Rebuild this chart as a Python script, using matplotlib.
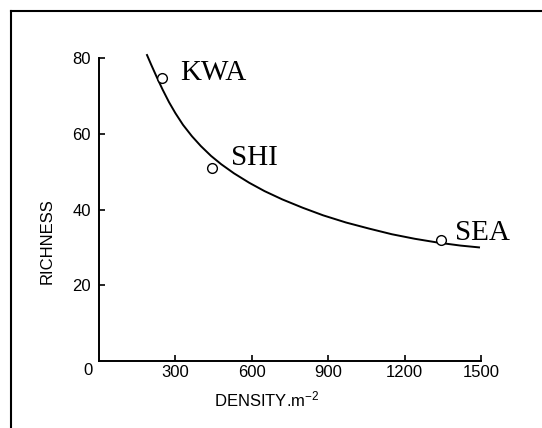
import matplotlib
matplotlib.use("Agg")
import matplotlib.pyplot as plt
from matplotlib.lines import Line2D

plt.rcParams['font.family'] = ['Liberation Sans', 'DejaVu Sans']
plt.rcParams['mathtext.default'] = 'regular'

# sites: density (per m^2) and species richness
sites = ['KWA', 'SHI', 'SEA']
density = [246, 442, 1341]
richness = [74.8, 51.0, 32.0]

# fitted curve, traced along its length
curve_x = [187, 205, 227, 250, 275, 300, 330, 365, 400, 440, 480, 530,
           590, 650, 720, 800, 880, 970, 1060, 1150, 1240, 1330, 1420, 1496]
curve_y = [81.1, 78.3, 75.0, 71.7, 68.4, 65.5, 62.4, 59.4, 56.8, 54.2, 52.0, 49.6,
           47.1, 44.9, 42.7, 40.5, 38.5, 36.6, 35.0, 33.5, 32.3, 31.3, 30.5, 30.0]

x_ticks = [300, 600, 900, 1200, 1500]
y_ticks = [20, 40, 60, 80]

W, H = 542, 428
fig = plt.figure(figsize=(W / 100, H / 100), dpi=100)
ax = fig.add_axes([99 / W, 1 - 361 / H, 382 / W, 302.7 / H])

ax.plot(curve_x, curve_y, color='black', lw=1.4, clip_on=False, zorder=2,
        solid_joinstyle='round', solid_capstyle='butt')
ax.plot(density, richness, 'o', mfc='white', mec='black', ms=7, mew=1.0,
        clip_on=False, zorder=3)

label_pos = {'KWA': (318, 76.2), 'SHI': (519, 53.6), 'SEA': (1398, 33.8)}
for s in sites:
    lx, ly = label_pos[s]
    ax.text(lx, ly, s, family='Liberation Serif', fontsize=21,
            ha='left', va='center')

ax.set_xlim(0, 1500)
ax.set_ylim(0, 80)
ax.spines['top'].set_visible(False)
ax.spines['right'].set_visible(False)
for sp in ('left', 'bottom'):
    ax.spines[sp].set_linewidth(1.4)

ax.set_xticks(x_ticks)
ax.set_yticks(y_ticks)
ax.tick_params(direction='in', length=4, width=1.2, labelsize=12)
ax.tick_params(axis='x', pad=3)
ax.tick_params(axis='y', pad=6)
ax.text(-43, -2.6, '0', fontsize=12, ha='center', va='center')

fig.text(47.5 / W, 1 - 241.5 / H, 'RICHNESS', fontsize=12, rotation=90,
         ha='center', va='center')
fig.text(267 / W, 1 - 399 / H, 'DENSITY.m$^{-2}$', fontsize=12,
         ha='center', va='center')

# frame around the figure (top and left edges)
fig.add_artist(Line2D([11 / W, 1.0], [1 - 11 / H, 1 - 11 / H],
                      color='black', lw=1.5, transform=fig.transFigure))
fig.add_artist(Line2D([11 / W, 11 / W], [0.0, 1 - 11 / H],
                      color='black', lw=1.5, transform=fig.transFigure))

fig.savefig('out.png', dpi=100, facecolor='white')
